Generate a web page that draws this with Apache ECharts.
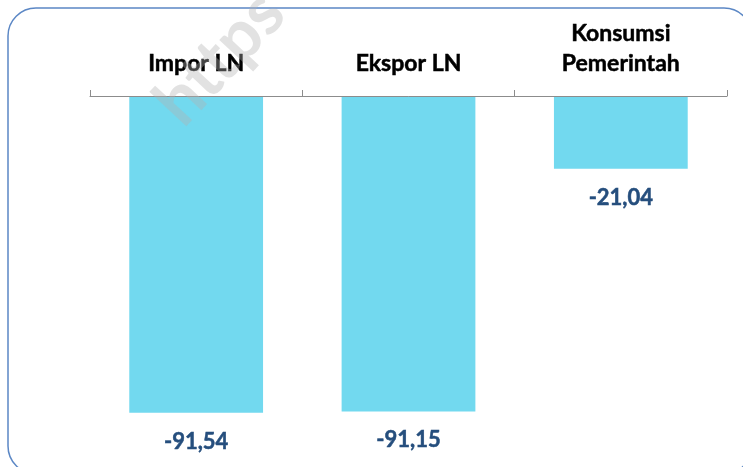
<!DOCTYPE html>
<html><head><meta charset="utf-8">
<script src="https://cdn.jsdelivr.net/npm/echarts@6/dist/echarts.min.js"></script>
<style>html,body{margin:0;padding:0;background:#fff}#c{width:743px;height:467px}</style>
</head><body><div id="c"></div>
<script>
const categories = ['Impor LN', 'Ekspor LN', 'Konsumsi\nPemerintah'];
const values = [-91.54, -91.15, -21.04];

const chart = echarts.init(document.getElementById('c'));
chart.setOption({
  animation: false,
  grid: { left: 90, right: 16, top: 96, height: 346 },
  xAxis: {
    type: 'category', data: categories, position: 'top', z: 20,
    axisLine: { show: true, onZero: false, lineStyle: { color: '#8c8c8c', width: 1 } },
    axisTick: { show: true, length: 6, lineStyle: { color: '#8c8c8c' } },
    axisLabel: { color: '#000', fontFamily: 'Lato', fontWeight: 'bold', fontSize: 23, lineHeight: 30,
      margin: 17, textBorderColor: '#000', textBorderWidth: 0.5 }
  },
  yAxis: { type: 'value', min: -100, max: 0, show: false, splitLine: { show: false } },
  series: [{
    type: 'bar', data: values, barWidth: '63%', z: 1,
    itemStyle: { color: '#72D9EF' },
    label: {
      show: true, position: 'bottom', distance: 18,
      formatter: p => p.value.toFixed(2).replace('.', ','),
      color: '#254E7D', fontFamily: 'Lato', fontWeight: 'bold', fontSize: 22,
      textBorderColor: '#254E7D', textBorderWidth: 0.5
    }
  }],
  graphic: [
    { type: 'text', x: 220, y: 58, rotation: Math.PI * 47 / 180, zlevel: 1, style: { text: 'https', fill: 'rgba(180,180,180,0.38)', font: 'bold 68px Lato', textAlign: 'center', textVerticalAlign: 'middle' } },
    { type: 'rect', shape: { x: 8, y: 8, width: 744, height: 466, r: 28 }, style: { fill: null, stroke: '#5B87C5', lineWidth: 1.5 }, z: 10 }
  ]
});
</script></body></html>
